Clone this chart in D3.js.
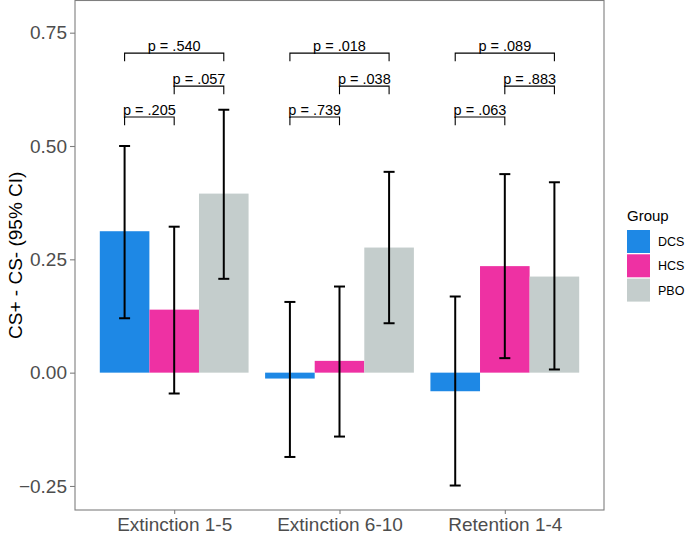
<!DOCTYPE html>
<html><head><meta charset="utf-8">
<script src="https://cdn.jsdelivr.net/npm/d3@7"></script>
<style>body{margin:0;background:#fff}svg{display:block;font-family:"Liberation Sans",Arial,sans-serif}</style>
</head><body><svg id="c" width="685" height="534"></svg>
<script>
const categories = ["Extinction 1-5", "Extinction 6-10", "Retention 1-4"];
const groups = ["DCS", "HCS", "PBO"];
const colors = ["#1e88e5", "#ee31a3", "#c4cdcc"];
const meanDCS = [0.312, -0.013, -0.041];
const meanHCS = [0.139, 0.026, 0.235];
const meanPBO = [0.395, 0.276, 0.212];
const lowDCS = [0.120, -0.186, -0.249];
const highDCS = [0.500, 0.156, 0.168];
const lowHCS = [-0.046, -0.141, 0.032];
const highHCS = [0.322, 0.190, 0.438];
const lowPBO = [0.207, 0.109, 0.007];
const highPBO = [0.580, 0.443, 0.420];
const yTicks = [-0.25, 0, 0.25, 0.5, 0.75];
const pLabels = [".540", ".057", ".205", ".018", ".038", ".739", ".089", ".883", ".063"];
const pPairs = [[0,2],[1,2],[0,1],[0,2],[1,2],[0,1],[0,2],[1,2],[0,1]];
const pCats = [0,0,0,1,1,1,2,2,2];
const pLevels = [0.705, 0.632, 0.564, 0.705, 0.632, 0.564, 0.705, 0.632, 0.564];

const means = [meanDCS, meanHCS, meanPBO];
const lows = [lowDCS, lowHCS, lowPBO];
const highs = [highDCS, highHCS, highPBO];

const svg = d3.select("#c");
const L = 75, R = 604, T = 0.5, B = 510;
const step = (R - L) / 3.2;
const cx = i => L + step * (0.6 + i);
const groupW = step * 0.9;
const barW = groupW / 3;
const gx = (i, g) => cx(i) - groupW / 2 + barW * g;
const y = d3.scaleLinear().domain([-0.303, 0.821]).range([B, T]);

groups.forEach((g, gi) => {
  svg.append("g").selectAll("rect").data(categories).join("rect")
    .attr("x", (d, i) => gx(i, gi))
    .attr("width", barW)
    .attr("y", (d, i) => y(Math.max(0, means[gi][i])))
    .attr("height", (d, i) => Math.abs(y(means[gi][i]) - y(0)))
    .attr("fill", colors[gi]);
});
groups.forEach((g, gi) => {
  categories.forEach((c, i) => {
    const xc = gx(i, gi) + barW / 2;
    const eg = svg.append("g").attr("stroke", "#000").attr("stroke-width", 2);
    eg.append("line").attr("x1", xc).attr("x2", xc).attr("y1", y(lows[gi][i])).attr("y2", y(highs[gi][i]));
    eg.append("line").attr("x1", xc - 5.5).attr("x2", xc + 5.5).attr("y1", y(lows[gi][i])).attr("y2", y(lows[gi][i]));
    eg.append("line").attr("x1", xc - 5.5).attr("x2", xc + 5.5).attr("y1", y(highs[gi][i])).attr("y2", y(highs[gi][i]));
  });
});
pLabels.forEach((lab, k) => {
  const i = pCats[k], [a, b] = pPairs[k];
  const x1 = gx(i, a) + barW / 2, x2 = gx(i, b) + barW / 2;
  const yy = y(pLevels[k]), yt = y(pLevels[k] - 0.018);
  svg.append("path").attr("d", `M${x1},${yt}V${yy}H${x2}V${yt}`)
    .attr("fill", "none").attr("stroke", "#000").attr("stroke-width", 1.1);
  svg.append("text").attr("x", (x1 + x2) / 2).attr("y", yy - 2)
    .attr("text-anchor", "middle").attr("font-size", 14.5).attr("fill", "#000")
    .text("p = " + lab);
});
svg.append("rect").attr("x", L).attr("y", T).attr("width", R - L).attr("height", B - T)
  .attr("fill", "none").attr("stroke", "#7f7f7f").attr("stroke-width", 1.1);
const yAxis = svg.append("g").attr("transform", `translate(${L},0)`)
  .call(d3.axisLeft(y).tickValues(yTicks).tickFormat(d3.format(".2f")).tickSize(5).tickPadding(3));
yAxis.select(".domain").remove();
yAxis.selectAll("line").attr("stroke", "#7f7f7f").attr("stroke-width", 1.1);
yAxis.selectAll("text").attr("font-size", 19).attr("fill", "#4d4d4d").attr("font-family", null);
const xs = d3.scaleOrdinal().domain(categories).range(categories.map((c, i) => cx(i)));
const xAxis = svg.append("g").attr("transform", `translate(0,${B})`)
  .call(d3.axisBottom(xs).tickSize(4).tickPadding(4));
xAxis.select(".domain").remove();
xAxis.selectAll("line").attr("stroke", "#7f7f7f").attr("stroke-width", 1.1);
xAxis.selectAll("text").attr("font-size", 19).attr("fill", "#4d4d4d").attr("font-family", null);
svg.append("text").attr("transform", `translate(22,${(T + B) / 2}) rotate(-90)`)
  .attr("text-anchor", "middle").attr("font-size", 19).attr("fill", "#000")
  .text("CS+ - CS- (95% CI)");
const lg = svg.append("g");
lg.append("text").attr("x", 627).attr("y", 221).attr("font-size", 15).attr("fill", "#000").text("Group");
groups.forEach((g, gi) => {
  lg.append("rect").attr("x", 627).attr("y", 230 + gi * 24.3).attr("width", 23).attr("height", 23)
    .attr("fill", colors[gi]);
  lg.append("text").attr("x", 658).attr("y", 230 + gi * 24.3 + 16).attr("font-size", 12.5)
    .attr("fill", "#000").text(g);
});
</script></body></html>
